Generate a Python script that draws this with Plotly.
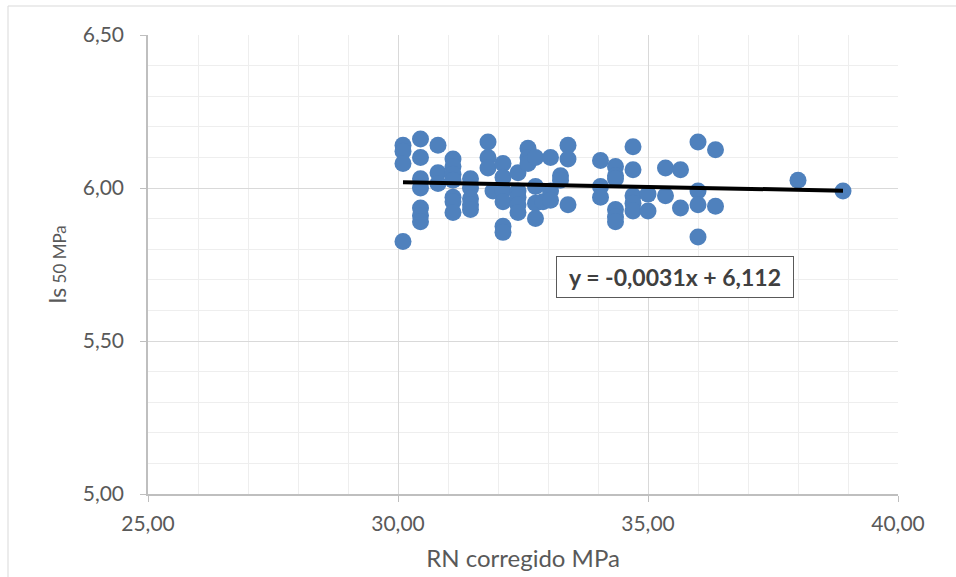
import plotly.graph_objects as go

# RN corregido (MPa) and Is50 (MPa)
rn_corregido = [
    30.1, 30.1, 30.1, 30.1,
    30.45, 30.45, 30.45, 30.45, 30.45, 30.45, 30.45,
    30.8, 30.8, 30.8,
    31.1, 31.1, 31.1, 31.1, 31.1, 31.1, 31.1,
    31.45, 31.45, 31.45, 31.45, 31.45,
    31.8, 31.8, 31.8,
    31.9,
    32.1, 32.1, 32.1, 32.1, 32.1, 32.1,
    32.4, 32.4, 32.4, 32.4, 32.4,
    32.6, 32.6, 32.6,
    32.75, 32.75, 32.75, 32.75,
    32.9,
    33.05, 33.05, 33.05,
    33.25, 33.25,
    33.4, 33.4, 33.4,
    34.05, 34.05, 34.05,
    34.35, 34.35, 34.35, 34.35, 34.35, 34.35,
    34.7, 34.7, 34.7, 34.7, 34.7,
    35.0, 35.0,
    35.35, 35.35,
    35.65, 35.65,
    36.0, 36.0, 36.0, 36.0,
    36.35, 36.35,
    38.0,
    38.9,
]
is50 = [
    6.14, 6.12, 6.08, 5.825,
    6.16, 6.10, 6.03, 6.00, 5.935, 5.91, 5.89,
    6.14, 6.05, 6.015,
    6.095, 6.07, 6.045, 6.025, 5.97, 5.955, 5.92,
    6.03, 6.00, 5.965, 5.945, 5.93,
    6.15, 6.10, 6.065,
    5.99,
    6.08, 6.035, 5.99, 5.955, 5.875, 5.855,
    6.05, 5.99, 5.97, 5.945, 5.92,
    6.13, 6.10, 6.08,
    6.10, 6.005, 5.95, 5.90,
    5.955,
    6.10, 5.99, 5.96,
    6.04, 6.025,
    6.14, 6.095, 5.945,
    6.09, 6.005, 5.97,
    6.07, 6.04, 6.03, 5.93, 5.905, 5.89,
    6.135, 6.06, 5.975, 5.95, 5.925,
    5.98, 5.925,
    6.065, 5.975,
    6.06, 5.935,
    6.15, 5.99, 5.945, 5.84,
    6.125, 5.94,
    6.025,
    5.99,
]

# Linear trendline coefficients shown on the chart
slope = -0.0031
intercept = 6.112
trend_label = "y = -0,0031x + 6,112"

x_title = "RN corregido MPa"
y_title = "Is<span style='font-size:17px'> 50 MPa</span>"

x_min, x_max = min(rn_corregido), max(rn_corregido)
trend_x = [x_min, x_max]
trend_y = [slope * v + intercept for v in trend_x]

FONT = "Lato"
TXT = "#595959"

fig = go.Figure()
fig.add_trace(go.Scatter(
    x=rn_corregido, y=is50, mode="markers",
    marker=dict(size=17, color="#4F81BD", line=dict(width=0)),
    showlegend=False, hoverinfo="x+y",
))
fig.add_trace(go.Scatter(
    x=trend_x, y=trend_y, mode="lines",
    line=dict(color="black", width=4),
    showlegend=False, hoverinfo="skip",
))

fig.add_annotation(
    x=35.54, y=5.709, xref="x", yref="y",
    text="<b>" + trend_label + "</b>", showarrow=False,
    font=dict(family=FONT, size=23, color="#404040"),
    bgcolor="white", bordercolor="#595959", borderwidth=1,
    borderpad=5, width=226, height=30,
)

# outer chart border
fig.add_shape(type="rect", xref="paper", yref="paper",
              x0=(8 - 148) / 750, x1=1.3, y0=-0.5, y1=(494 - 6) / 459,
              line=dict(color="#D9D9D9", width=1), fillcolor="rgba(0,0,0,0)",
              layer="below")

fig.update_layout(
    width=956, height=577,
    margin=dict(l=148, r=58, t=35, b=83, autoexpand=False),
    paper_bgcolor="white", plot_bgcolor="white",
    separators=",.",
    font=dict(family=FONT, size=20, color=TXT),
)
fig.update_xaxes(
    range=[25, 40], dtick=5, tick0=25, tickformat=".2f",
    showgrid=True, gridcolor="#D9D9D9", gridwidth=1,
    minor=dict(dtick=1, showgrid=True, gridcolor="#EEEEEE", gridwidth=1),
    showline=True, linecolor="#BFBFBF", linewidth=1.5,
    ticks="outside", ticklen=6, tickcolor="#BFBFBF",
    ticklabelstandoff=4, automargin=False,
    zeroline=False,
    title=dict(text=x_title, font=dict(family=FONT, size=24, color=TXT), standoff=16),
    tickfont=dict(family=FONT, size=21, color=TXT),
)
fig.update_yaxes(
    range=[5.0, 6.5], dtick=0.5, tick0=5, tickformat=".2f",
    showgrid=True, gridcolor="#D9D9D9", gridwidth=1,
    minor=dict(dtick=0.1, showgrid=True, gridcolor="#EEEEEE", gridwidth=1),
    showline=True, linecolor="#BFBFBF", linewidth=1.5,
    ticks="outside", ticklen=6, tickcolor="#BFBFBF",
    ticklabelstandoff=12, automargin=False,
    zeroline=False,
    title=dict(text=y_title, font=dict(family=FONT, size=23, color=TXT), standoff=10),
    tickfont=dict(family=FONT, size=21, color=TXT),
)

fig.write_html("out.html")
